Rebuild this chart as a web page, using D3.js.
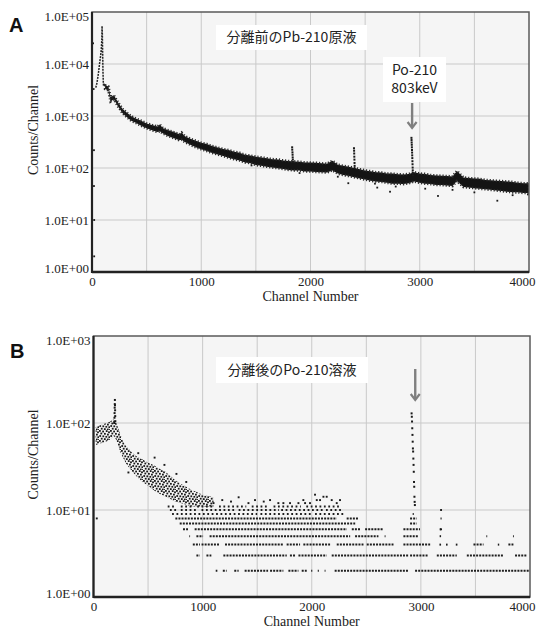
<!DOCTYPE html>
<html>
<head>
<meta charset="utf-8">
<script src="https://cdn.jsdelivr.net/npm/d3@7"></script>
<style>
  body { margin: 0; background: #fff; }
  svg { display: block; }
</style>
</head>
<body>
<div id="chart"></div>
<script>
// ---- panel A : spectrum before separation (Pb-210 stock) ----
const chA   = [120,150,170,200,240,280,320,360,400,450,500,550,600,620,650,700,750,800,820,850,900,950,1000,1050,1100,1150,1200,1250,1300,1350,1400,1450,1500,1550,1600,1650,1700,1750,1800,1850,1900,1950,2000,2050,2100,2150,2200,2250,2300,2350,2450,2500,2550,2600,2650,2700,2750,2800,2850,2900,2950,3000,3050,3100,3150,3200,3250,3300,3340,3400,3450,3500,3550,3600,3650,3700,3750,3800,3850,3900,3950,4000];
const lowA  = [3300,3100,1900,2100,1500,1130,950,810,740,650,580,530,490,510,460,410,375,340,350,315,280,250,230,212,195,182,170,158,148,140,128,124,114,110,106,102,99,96,92,90,90,86,86,84,83,82,90,78,73,70,63,60,57,55,54,52,50,50,49,51,55,52,50,49,47,47,46,45,56,43,42,41,40,39,38,37,36,35,34,34,33,33];
const highA = [3900,3700,2300,2500,1800,1370,1150,990,900,810,720,670,630,690,580,530,490,445,480,410,365,335,305,290,265,248,232,222,205,197,180,174,165,160,154,148,146,140,136,134,132,128,127,126,123,121,138,116,110,106,95,90,87,83,82,78,78,76,75,77,83,78,77,73,72,71,70,69,88,66,64,63,62,59,58,57,56,55,54,52,51,51];
// low-channel rise and 46.5 keV peak
const peakLowA = [[35,3500],[40,3900],[45,4300],[50,5000],[55,5800],[60,7000],[65,8500],[70,10500],[75,12500],[80,15000],[85,19000],[90,30000],[92,54000],[93,47000],[94,41000],[95,36000],[95,31000],[96,27000],[96,23500],[97,20500],[97,18000],[98,15500],[98,13500],[99,11500],[99,10000],[100,8700],[100,7500],[101,6500],[102,5600],[103,4800],[104,4200],[106,3800],[110,3700]];
const peaksA = [[1832,250],[1833,225],[1835,200],[1836,180],[1837,160],[1838,145],[1840,130],
  [2398,240],[2399,215],[2400,190],[2401,165],[2402,145],[2403,125],[2404,110],[2405,98],
  [2924,380],[2925,345],[2926,310],[2927,280],[2928,250],[2929,222],[2930,198],[2931,175],[2932,155],[2933,135],[2934,118],[2935,102],[2936,90],[2937,80],[2938,72]];
const strayA = [[10,25000],[15,3300],[18,220],[18,45],[20,10],[20,2],[1460,112],[1900,80],[2250,68],[2346,51],[2590,50],[2611,42],[2728,35],[2780,44],[3050,40],[3167,29],[3300,38],[3500,34],[3710,23.5],[3850,30],[3990,31]];

// ---- panel B : after separation (Po-210 solution) ----
const chB   = [20,60,100,140,175,185,205,220,240,270,300,350,400,450,500,550,600,650,700,750,800,850,900,950,1000,1050,1100];
const lowB  = [56,58,60,63,68,72,65,58,48,40,34,28,24,21,19,17,15.5,14.5,13.5,12.5,12,11.5,11,11,11,11,11];
const highB = [90,94,98,102,108,112,105,92,78,62,54,46,41,38,35,33,30,28,25,22,20,18.5,17,16,15,14.5,14];
const peaksB = [[190,100],[192,115],[193,130],[194,150],[195,165],[196,184],[197,160],[198,140],[199,120],[200,105],
  [2915,129],[2917,118],[2919,104],[2921,87],[2923,73],[2925,61],[2927,51],[2929,47],[2931,39],[2933,33],[2935,27.5],[2937,21],[2939,18.5],[2941,14.2],[2943,12.4],[2945,11.4]];
const strayB = [[30,8],[320,27],[410,45],[560,40],[650,33],[760,26],[850,21],[1100,12],[1180,13],[1260,12.5],[1330,14],[1420,12],[1480,13],[1560,12.5],[1618,13],[1694,12],[1740,12],[1801,12],[1878,12],[1923,13],[1939,12],[1984,12],[2030,15],[2046,13],[2076,13],[2107,14.2],[2137,14.2],[2183,13],[2229,12],[2259,13],[3185,10],[3185,6]];
// discrete count rows: level -> channel ranges where that count appears
const rowLevelsB = [2,3,4,5,6,7,8,9,10,11];
const rowSegsB = [
  [[1120,1135],[1185,1220],[1290,1330],[1385,1600],[1618,1740],[1786,1878],[1908,1954],[1995,2005],[2055,2065],[2118,2126],[2210,2886],[2947,4000]],
  [[943,975],[1035,1080],[1190,1771],[1800,1847],[1878,2137],[2183,2886],[2901,3069],[3146,3329],[3421,3756],[3863,3970]],
  [[910,975],[990,1160],[1205,1740],[1770,1893],[1923,2168],[2229,2474],[2504,2749],[2840,3085],[3170,3185],[3230,3245],[3320,3335],[3482,3574],[3705,3718],[3802,3848]],
  [[878,885],[943,1004],[1064,2352],[2397,2611],[2668,2676],[2840,2977],[3172,3185],[3600,3608],[3844,3852]],
  [[820,866],[927,2322],[2367,2443],[2489,2657],[2840,2992],[3172,3185]],
  [[790,2398],[2901,2962]],
  [[750,2229],[2320,2427],[2901,2962],[3180,3190]],
  [[720,1500],[1530,2000],[2030,2290],[2925,2935]],
  [[700,780],[800,960],[990,1300],[1330,1700],[1720,2100],[2130,2270]],
  [[680,760],[800,900],[950,1100],[1150,1400],[1450,1600],[1650,1900],[1950,2250]]
];

const xTicks = [0, 1000, 2000, 3000, 4000];
const poPeakCh = 2930;

const W = 536, H = 629;
const svg = d3.select("#chart").append("svg").attr("width", W).attr("height", H);

// irregular speckle texture used for the dense scatter of panel B
const defs = svg.append("defs");
const pat = defs.append("pattern").attr("id", "speckle")
  .attr("patternUnits", "userSpaceOnUse").attr("width", 11).attr("height", 10);
[[0,0],[3.2,0.6],[6.8,0.2],[9.1,1.4],[1.4,2.6],[5,2.9],[8,3.7],[0.3,5.1],[3.4,5.4],[6.4,5.9],[9.4,6.3],[1.8,7.8],[4.9,8.2],[7.9,8.6],[10,9.1]].forEach(p => {
  pat.append("rect").attr("x", p[0]).attr("y", p[1]).attr("width", 1.8).attr("height", 1.8).attr("fill", "#1a1a1a");
});

const sci = d => "1.0E+" + String(Math.round(Math.log10(d))).padStart(2, "0");

function panel(o) {
  const x = d3.scaleLinear().domain([0, 4000]).range([o.left, o.right]);
  const y = d3.scaleLog().domain([1, o.yMax]).range([o.bottom, o.top]);
  const g = svg.append("g");

  g.append("rect").attr("x", o.left).attr("y", o.top)
    .attr("width", o.right - o.left).attr("height", o.bottom - o.top)
    .attr("fill", "#f5f5f5");

  const decades = d3.range(0, Math.round(Math.log10(o.yMax)) + 1).map(k => Math.pow(10, k));
  g.selectAll(".vg").data(d3.range(500, 4000, 500)).enter().append("line")
    .attr("x1", d => x(d)).attr("x2", d => x(d))
    .attr("y1", o.top).attr("y2", o.bottom)
    .attr("stroke", "#c9c9c9").attr("stroke-width", 1);
  g.selectAll(".hg").data(decades.slice(1, -1)).enter().append("line")
    .attr("x1", o.left).attr("x2", o.right)
    .attr("y1", d => y(d)).attr("y2", d => y(d))
    .attr("stroke", "#c9c9c9").attr("stroke-width", 1);

  const clipId = "clip" + o.id;
  defs.append("clipPath").attr("id", clipId).append("rect")
    .attr("x", o.left).attr("y", o.top).attr("width", o.right - o.left).attr("height", o.bottom - o.top);
  const data = g.append("g").attr("clip-path", "url(#" + clipId + ")");

  return { g, x, y, data, decades, o };
}

function finish(p) {
  const { g, x, y, decades, o } = p;
  // frame
  g.append("rect").attr("x", o.left).attr("y", o.top)
    .attr("width", o.right - o.left).attr("height", o.bottom - o.top)
    .attr("fill", "none").attr("stroke", "#5a5a5a").attr("stroke-width", 1.5);
  g.append("line").attr("x1", o.left).attr("x2", o.left).attr("y1", o.top).attr("y2", o.bottom + 1)
    .attr("stroke", "#222").attr("stroke-width", 2.2);
  g.append("line").attr("x1", o.left).attr("x2", o.right).attr("y1", o.bottom).attr("y2", o.bottom)
    .attr("stroke", "#222").attr("stroke-width", 2.5);

  const ay = g.append("g").attr("transform", `translate(${o.left},0)`)
    .call(d3.axisLeft(y).tickValues(decades).tickSize(0).tickPadding(3).tickFormat(sci));
  ay.select(".domain").remove();
  // end labels are pulled inside the plot height
  ay.selectAll("text")
    .attr("font-family", "'Liberation Serif', serif").attr("font-size", 13).attr("fill", "#222")
    .attr("dy", (d, i) => i === 0 ? "0em" : (i === decades.length - 1 ? "0.62em" : "0.32em"));

  const ax = g.append("g").attr("transform", `translate(0,${o.bottom})`)
    .call(d3.axisBottom(x).tickValues(xTicks).tickSize(0).tickPadding(5).tickFormat(d3.format("d")));
  ax.select(".domain").remove();
  ax.selectAll("text")
    .attr("font-family", "'Liberation Serif', serif").attr("font-size", 13).attr("fill", "#222");
  // last label sits against the right edge of the picture
  ax.selectAll("text").filter(d => d === xTicks[xTicks.length - 1])
    .attr("text-anchor", "end").attr("x", W - 1 - o.right);

  g.append("text").attr("x", (o.left + o.right) / 2).attr("y", o.bottom + 29)
    .attr("text-anchor", "middle")
    .attr("font-family", "'Liberation Serif', serif").attr("font-size", 14).attr("fill", "#222")
    .text("Channel Number");
  g.append("text")
    .attr("transform", `translate(38,${(o.top + o.bottom) / 2 - 12}) rotate(-90)`)
    .attr("text-anchor", "middle")
    .attr("font-family", "'Liberation Serif', serif").attr("font-size", 14).attr("fill", "#222")
    .text("Counts/Channel");
  g.append("text").attr("x", o.letterX).attr("y", o.letterY)
    .attr("font-family", "'Liberation Sans', Arial, sans-serif").attr("font-weight", "bold")
    .attr("font-size", 20).attr("fill", "#111").text(o.letter);
}

function titleBox(g, cx, cy, w, h, lines) {
  g.append("rect").attr("x", cx - w / 2).attr("y", cy - h / 2).attr("width", w).attr("height", h).attr("fill", "#fff");
  const t = g.append("text").attr("text-anchor", "middle")
    .attr("font-family", "'Noto Sans CJK JP', 'Noto Sans', sans-serif").attr("font-size", 14).attr("fill", "#222");
  lines.forEach((s, i) => {
    t.append("tspan").attr("x", cx).attr("y", cy - (lines.length - 1) * 9 + i * 18).attr("dy", "0.35em").text(s);
  });
}

function arrow(g, ax, y1, y2) {
  g.append("line").attr("x1", ax).attr("x2", ax).attr("y1", y1).attr("y2", y2 - 1)
    .attr("stroke", "#7f7f7f").attr("stroke-width", 2.4);
  g.append("path").attr("d", `M${ax - 4.5},${y2 - 6} L${ax},${y2} L${ax + 4.5},${y2 - 6}`)
    .attr("fill", "none").attr("stroke", "#7f7f7f").attr("stroke-width", 2.2);
}

function dots(p, pts, size) {
  p.data.selectAll(null).data(pts).enter().append("rect")
    .attr("x", d => p.x(d[0]) - size / 2).attr("y", d => p.y(d[1]) - size / 2)
    .attr("width", size).attr("height", size).attr("fill", "#1a1a1a");
}

// ---------- Panel A ----------
const A = panel({ id: "A", left: 92, right: 529, top: 12, bottom: 272, yMax: 1e5, letter: "A", letterX: 9, letterY: 32 });
const bandA = chA.map((c, i) => ({ ch: c, lo: lowA[i], hi: highA[i] }));
const areaA = d3.area().x(d => A.x(d.ch)).y0(d => A.y(d.lo)).y1(d => A.y(d.hi));
A.data.append("path").datum(bandA).attr("d", areaA).attr("fill", "#141414")
  .attr("stroke", "#2a2a2a").attr("stroke-width", 2.6).attr("stroke-dasharray", "1.2,1.9");
A.data.append("path").datum(peakLowA).attr("d", d3.line().x(d => A.x(d[0])).y(d => A.y(d[1])))
  .attr("fill", "none").attr("stroke", "#222").attr("stroke-width", 1.5).attr("stroke-dasharray", "2,1");
dots(A, peaksA, 2);
dots(A, strayA, 1.8);
titleBox(A.g, 291.5, 37.5, 151, 25, ["分離前のPb-210原液"]);
titleBox(A.g, 414.5, 79.5, 63, 45, ["Po-210", "803keV"]);
arrow(A.g, A.x(poPeakCh), 103, 128);
finish(A);

// ---------- Panel B ----------
const B = panel({ id: "B", left: 93.5, right: 530, top: 336, bottom: 597, yMax: 1e3, letter: "B", letterX: 10, letterY: 358 });
const bandB = chB.map((c, i) => ({ ch: c, lo: lowB[i], hi: highB[i] }));
const areaB = d3.area().x(d => B.x(d.ch)).y0(d => B.y(d.lo)).y1(d => B.y(d.hi));
B.data.append("path").datum(bandB).attr("d", areaB).attr("fill", "url(#speckle)");
rowLevelsB.forEach((lv, i) => {
  B.data.selectAll(null).data(rowSegsB[i]).enter().append("line")
    .attr("x1", d => B.x(d[0])).attr("x2", d => B.x(d[1]))
    .attr("y1", B.y(lv)).attr("y2", B.y(lv))
    .attr("stroke", "#1e1e1e").attr("stroke-width", 2)
    .attr("stroke-dasharray", lv >= 9 ? "1.8,2.6" : "2,1.1");
});
dots(B, peaksB, 2);
dots(B, strayB, 1.9);
titleBox(B.g, 292, 370, 152, 26, ["分離後のPo-210溶液"]);
arrow(B.g, B.x(poPeakCh) + 2, 369, 400);
finish(B);
</script>
</body>
</html>
